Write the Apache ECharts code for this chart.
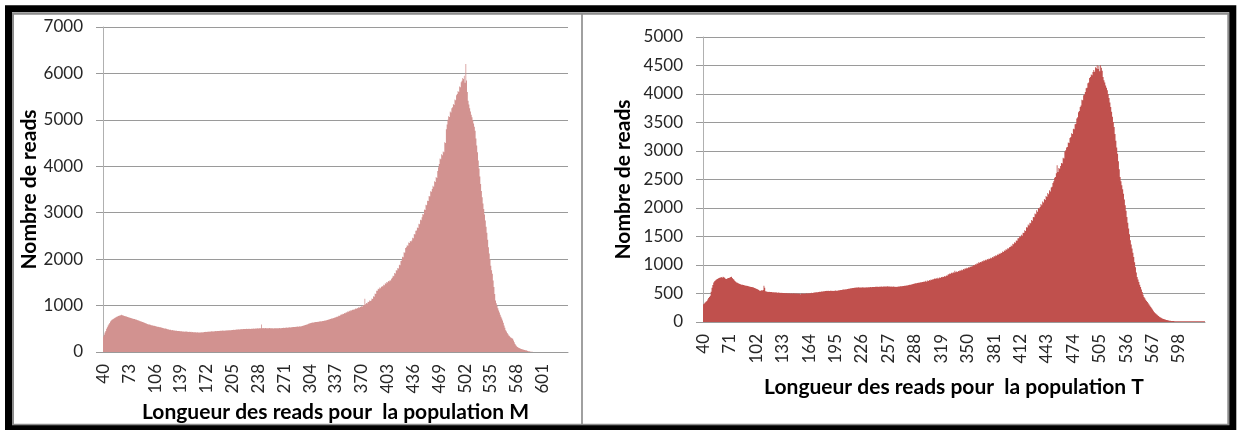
<!DOCTYPE html>
<html>
<head>
<meta charset="utf-8">
<script src="https://cdn.jsdelivr.net/npm/echarts@6/dist/echarts.min.js"></script>
<style>
  html, body { margin: 0; padding: 0; background: #fff; }
  #chart { width: 1238px; height: 430px; }
</style>
</head>
<body>
<div id="chart"></div>
<script>
// Read length of the first bin (both populations start at 40 nt)
const firstLength = 40;

// Number of reads per read length, population M (lengths 40..633)
const readsM = [
  335, 370, 420, 455, 500, 535, 570, 600, 625, 655,
  680, 695, 705, 715, 728, 740, 750, 758, 765, 775,
  780, 788, 793, 800, 791, 790, 782, 776, 770, 768,
  760, 752, 750, 741, 737, 733, 728, 722, 716, 711,
  710, 699, 702, 690, 683, 679, 671, 664, 660, 652,
  648, 641, 633, 625, 620, 613, 605, 600, 594, 590,
  586, 578, 575, 569, 566, 563, 560, 552, 550, 545,
  542, 538, 535, 535, 527, 520, 518, 512, 508, 505,
  505, 496, 492, 488, 481, 480, 478, 470, 472, 466,
  465, 462, 460, 462, 455, 452, 455, 450, 447, 449,
  446, 442, 444, 440, 438, 441, 440, 435, 438, 432,
  436, 433, 435, 428, 430, 426, 428, 424, 425, 421,
  423, 419, 422, 418, 420, 425, 421, 428, 426, 431,
  430, 434, 432, 437, 435, 440, 438, 441, 445, 443,
  446, 444, 448, 450, 448, 452, 450, 455, 453, 456,
  456, 458, 461, 459, 463, 460, 465, 462, 468, 464,
  466, 470, 468, 470, 474, 472, 478, 476, 480, 479,
  482, 484, 486, 488, 487, 490, 492, 494, 491, 496,
  495, 497, 497, 499, 496, 500, 498, 502, 497, 500,
  503, 501, 505, 502, 507, 505, 504, 509, 506, 511,
  510, 513, 590, 512, 515, 511, 513, 516, 513, 510,
  514, 512, 515, 511, 513, 510, 512, 508, 511, 510,
  510, 512, 509, 514, 511, 516, 513, 513, 518, 515,
  520, 517, 522, 522, 526, 524, 529, 527, 532, 530,
  535, 533, 538, 536, 541, 540, 545, 545, 548, 546,
  550, 553, 551, 556, 560, 566, 570, 575, 580, 585,
  590, 600, 606, 612, 618, 625, 629, 634, 632, 640,
  642, 645, 644, 648, 652, 650, 656, 660, 658, 664,
  668, 666, 672, 676, 679, 682, 690, 694, 700, 705,
  712, 718, 725, 722, 732, 738, 745, 750, 760, 758,
  770, 785, 778, 800, 810, 808, 826, 818, 842, 836,
  858, 850, 872, 866, 886, 878, 900, 892, 912, 905,
  922, 915, 936, 928, 948, 940, 962, 955, 975, 968,
  990, 980, 1010, 1000, 1147, 1030, 1055, 1045, 1085, 1075,
  1110, 1100, 1111, 1150, 1140, 1200, 1190, 1260, 1250, 1320,
  1320, 1365, 1350, 1390, 1375, 1398, 1420, 1410, 1450, 1440,
  1480, 1470, 1510, 1495, 1530, 1520, 1548, 1541, 1580, 1600,
  1640, 1630, 1700, 1690, 1760, 1756, 1810, 1800, 1880, 1870,
  1960, 1971, 2050, 2040, 2150, 2140, 2240, 2258, 2300, 2290,
  2360, 2350, 2390, 2380, 2401, 2460, 2450, 2540, 2530, 2610,
  2616, 2680, 2670, 2760, 2750, 2850, 2840, 2903, 2970, 2960,
  3070, 3060, 3170, 3160, 3260, 3250, 3360, 3350, 3460, 3450,
  3513, 3580, 3560, 3680, 3660, 3770, 3750, 3900, 3978, 4050,
  4170, 4150, 4260, 4240, 4320, 4300, 4520, 4500, 4800, 4900,
  5000, 5080, 5060, 5180, 5160, 5250, 5269, 5340, 5320, 5440,
  5420, 5530, 5556, 5620, 5600, 5720, 5700, 5810, 5842, 5900,
  5880, 5950, 5800, 6201, 5850, 5600, 5412, 5330, 5250, 5180,
  5110, 5054, 4990, 4920, 4850, 4767, 4600, 4450, 4300, 4122,
  3950, 3780, 3620, 3470, 3333, 3200, 3080, 2960, 2832, 2700,
  2570, 2420, 2258, 2120, 1990, 1860, 1760, 1685, 1540, 1400,
  1250, 1111, 1050, 990, 940, 896, 850, 800, 760, 720,
  681, 630, 570, 520, 466, 440, 410, 385, 358, 340,
  320, 305, 295, 287, 250, 210, 175, 143, 125, 110,
  98, 88, 80, 72, 66, 60, 54, 48, 43, 39,
  36, 30, 24, 18, 14, 10, 7, 5, 3, 2,
  0, 0, 0, 0, 0, 0, 0, 0, 0, 0,
  0, 0, 0, 0, 0, 0, 0, 0, 0, 0,
  0, 0, 0, 0, 0, 0, 0, 0, 0, 0,
  0, 0, 0, 0, 0, 0, 0, 0, 0, 0,
  0, 0, 0, 0
];

// Number of reads per read length, population T (lengths 40..628)
const readsT = [
  312, 325, 340, 355, 370, 395, 420, 440, 459, 530,
  600, 650, 694, 715, 730, 742, 753, 760, 770, 775,
  782, 788, 778, 794, 785, 775, 760, 753, 765, 772,
  770, 782, 788, 794, 770, 755, 740, 720, 705, 694,
  690, 680, 672, 665, 660, 655, 652, 650, 645, 640,
  638, 635, 630, 628, 622, 620, 615, 612, 608, 606,
  598, 590, 585, 580, 570, 560, 547, 550, 555, 552,
  560, 635, 600, 540, 535, 532, 528, 530, 526, 528,
  525, 522, 524, 520, 519, 521, 518, 515, 517, 513,
  512, 510, 511, 508, 510, 507, 505, 508, 506, 504,
  503, 505, 501, 504, 502, 500, 503, 499, 501, 498,
  500, 497, 499, 496, 488, 500, 498, 495, 499, 497,
  500, 503, 498, 505, 502, 508, 506, 512, 510, 514,
  516, 519, 521, 524, 522, 527, 530, 528, 533, 535,
  537, 540, 538, 543, 545, 547, 544, 548, 546, 549,
  547, 545, 550, 546, 548, 551, 547, 549, 553, 556,
  558, 562, 560, 565, 568, 572, 570, 574, 576, 579,
  582, 585, 588, 590, 594, 596, 598, 601, 603, 606,
  606, 604, 608, 605, 607, 604, 606, 609, 605, 607,
  606, 610, 606, 609, 611, 608, 612, 610, 614, 612,
  615, 613, 617, 618, 618, 620, 616, 621, 619, 622,
  620, 623, 621, 625, 622, 624, 626, 622, 625, 621,
  620, 623, 618, 621, 617, 619, 616, 618, 620, 622,
  624, 626, 628, 627, 631, 633, 636, 635, 639, 641,
  645, 648, 652, 655, 660, 662, 667, 671, 675, 679,
  682, 685, 688, 690, 694, 697, 699, 703, 706, 708,
  712, 722, 708, 726, 720, 735, 730, 745, 738, 752,
  748, 762, 755, 770, 760, 776, 765, 782, 772, 788,
  784, 796, 790, 806, 800, 816, 812, 832, 836, 850,
  846, 862, 856, 872, 866, 900, 872, 885, 878, 894,
  890, 906, 900, 918, 910, 930, 922, 942, 934, 952,
  944, 962, 954, 975, 966, 988, 980, 1002, 994, 1015,
  1010, 1032, 1022, 1048, 1040, 1053, 1050, 1070, 1062, 1082,
  1075, 1092, 1085, 1104, 1096, 1112, 1106, 1126, 1118, 1140,
  1132, 1156, 1148, 1170, 1162, 1186, 1178, 1200, 1192, 1215,
  1210, 1236, 1228, 1256, 1250, 1275, 1268, 1296, 1290, 1310,
  1316, 1340, 1330, 1372, 1365, 1400, 1392, 1431, 1425, 1470,
  1468, 1500, 1491, 1530, 1512, 1566, 1560, 1610, 1598, 1662,
  1660, 1712, 1695, 1740, 1732, 1790, 1775, 1840, 1838, 1905,
  1890, 1960, 1935, 2000, 1985, 2018, 2070, 2050, 2112, 2098,
  2160, 2140, 2210, 2195, 2265, 2240, 2310, 2290, 2360, 2375,
  2440, 2470, 2530, 2544, 2610, 2749, 2630, 2700, 2690, 2735,
  2790, 2780, 2880, 2870, 2990, 3012, 3060, 3070, 3150, 3140,
  3230, 3246, 3310, 3300, 3390, 3380, 3470, 3480, 3570, 3590,
  3680, 3700, 3772, 3800, 3900, 3890, 3980, 3990, 4035, 4100,
  4110, 4190, 4200, 4280, 4298, 4340, 4330, 4386, 4420, 4390,
  4470, 4450, 4503, 4440, 4490, 4400, 4503, 4460, 4410, 4300,
  4240, 4200, 4150, 4110, 4064, 4000, 3930, 3850, 3772, 3690,
  3600, 3510, 3421, 3300, 3180, 3060, 2953, 2820, 2680, 2544,
  2470, 2400, 2330, 2251, 2150, 2050, 1950, 1842, 1740, 1640,
  1540, 1433, 1360, 1290, 1215, 1140, 1050, 960, 870, 789,
  745, 700, 655, 614, 570, 525, 480, 439, 415, 392,
  370, 351, 330, 306, 285, 263, 240, 218, 196, 175,
  160, 145, 130, 117, 105, 94, 83, 73, 64, 58,
  52, 47, 42, 37, 33, 29, 26, 23, 21, 19,
  18, 17, 16, 15, 15, 14, 14, 13, 13, 13,
  13, 12, 13, 12, 12, 13, 12, 12, 12, 13,
  12, 12, 12, 12, 13, 12, 12, 12, 12, 12,
  12, 12, 12, 12, 12, 12, 12, 12, 12
];

// Category labels are shown every 33 lengths (M) and every 31 lengths (T)
const labelStepM = 33;
const labelStepT = 31;

// Value axis ranges: [min, max, interval]
const yRangeM = [0, 7000, 1000];
const yRangeT = [0, 5000, 500];

// Axis titles
const yTitle = 'Nombre de reads';
const xTitleM = 'Longueur des reads pour  la population M';
const xTitleT = 'Longueur des reads pour  la population T';

const colorM = '#D29290';
const colorT = '#C0504D';

const lengthsM = readsM.map((_, i) => String(firstLength + i));
const lengthsT = readsT.map((_, i) => String(firstLength + i));

const FONT = 'Lato';
const tickLabel = { fontFamily: FONT, fontSize: 17, color: '#262626' };
const titleStyle = { fontFamily: FONT, fontSize: 21, fontWeight: 'bold', color: '#000' };

function xAxisFor(grid, cats, step, title, gap) {
  return {
    gridIndex: grid,
    type: 'category',
    data: cats,
    boundaryGap: true,
    axisTick: { show: false },
    axisLine: { lineStyle: { color: '#9a9a9a', width: 1 } },
    axisLabel: Object.assign({ interval: step - 1, rotate: 90, margin: 12 }, tickLabel),
    splitLine: { show: false },
    name: title,
    nameLocation: 'middle',
    nameGap: gap,
    nameTextStyle: titleStyle
  };
}

function yAxisFor(grid, range, gap) {
  return {
    gridIndex: grid,
    type: 'value',
    min: range[0],
    max: range[1],
    interval: range[2],
    axisLine: { show: true, lineStyle: { color: '#b0b0b0', width: 1 } },
    axisTick: { show: true, length: 7, lineStyle: { color: '#9a9a9a' } },
    splitLine: { show: true, lineStyle: { color: '#9a9a9a', width: 1 } },
    axisLabel: Object.assign({ margin: 20, formatter: (v) => String(v) }, tickLabel),
    name: yTitle,
    nameLocation: 'middle',
    nameRotate: 90,
    nameGap: gap,
    nameTextStyle: titleStyle
  };
}

function barsFor(idx, data, color) {
  return {
    type: 'bar',
    xAxisIndex: idx,
    yAxisIndex: idx,
    data: data,
    barWidth: '100%',
    barCategoryGap: 0,
    large: true,
    largeThreshold: 100,
    itemStyle: { color: color },
    silent: true
  };
}

const chart = echarts.init(document.getElementById('chart'), null, { renderer: 'canvas' });
chart.setOption({
  animation: false,
  backgroundColor: '#fff',
  textStyle: { fontFamily: FONT },
  grid: [
    { left: 103, top: 27, width: 465, height: 325 },
    { left: 703, top: 37, width: 502, height: 285 }
  ],
  xAxis: [
    xAxisFor(0, lengthsM, labelStepM, xTitleM, 47),
    xAxisFor(1, lengthsT, labelStepT, xTitleT, 55)
  ],
  yAxis: [
    yAxisFor(0, yRangeM, 61),
    yAxisFor(1, yRangeT, 69)
  ],
  series: [
    barsFor(0, readsM, colorM),
    barsFor(1, readsT, colorT)
  ],
  graphic: [
    // panel divider
    { type: 'line', z: 100, shape: { x1: 582, y1: 13, x2: 582, y2: 425 },
      style: { stroke: '#a0a0a0', lineWidth: 2 } },
    // inner grey edge of the frame
    { type: 'rect', z: 100, shape: { x: 13, y: 13.8, width: 1215.3, height: 411 },
      style: { fill: null, stroke: '#8c8c8c', lineWidth: 2 } },
    // heavy black frame
    { type: 'rect', z: 101, shape: { x: 8.5, y: 8.8, width: 1224.3, height: 420 },
      style: { fill: null, stroke: '#000', lineWidth: 7 } }
  ]
});
</script>
</body>
</html>
